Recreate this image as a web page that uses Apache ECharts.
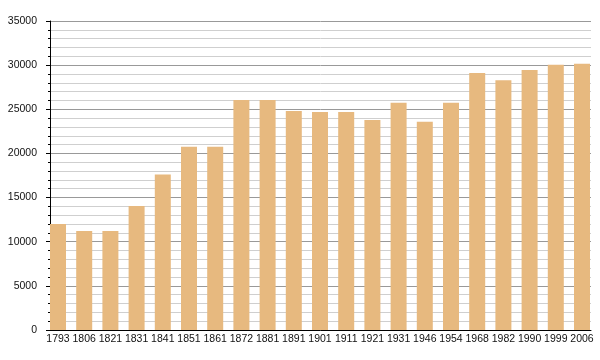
<!DOCTYPE html>
<html><head><meta charset="utf-8">
<script src="https://cdn.jsdelivr.net/npm/echarts@6/dist/echarts.min.js"></script>
<style>html,body{margin:0;padding:0;background:#fff}#c{width:600px;height:360px}</style>
</head><body><div id="c"></div>
<script>
const years = ['1793','1806','1821','1831','1841','1851','1861','1872','1881','1891','1901','1911','1921','1931','1946','1954','1968','1982','1990','1999','2006'];
const population = [12000,11200,11200,14050,17600,20750,20750,26050,26050,24800,24700,24700,23800,25750,23600,25750,29100,28300,29450,30050,30150];
const yTicks = {min:0, max:35000, interval:5000};

const font = 'Liberation Sans, Arial, sans-serif';
const chart = echarts.init(document.getElementById('c'), null, {renderer:'canvas'});
chart.setOption({
  animation:false,
  grid:[
    {left:44.9, top:21, width:550.2, bottom:30},
    {left:50, top:21, width:541, bottom:30}
  ],
  xAxis:[
    {type:'category', data:years, gridIndex:0,
     axisLine:{show:false}, axisTick:{show:false},
     axisLabel:{interval:0, margin:4, color:'#111', fontSize:10.5, fontFamily:font}},
    {type:'category', data:years, gridIndex:1,
     axisLine:{show:true, lineStyle:{color:'#000', width:1}}, axisTick:{show:false},
     axisLabel:{show:false}, splitLine:{show:false}}
  ],
  yAxis:[
    {type:'value', gridIndex:0, min:yTicks.min, max:yTicks.max, interval:yTicks.interval,
     show:false, splitLine:{show:false}},
    {type:'value', gridIndex:1, min:yTicks.min, max:yTicks.max, interval:yTicks.interval,
     axisLine:{show:true, lineStyle:{color:'#000', width:1}},
     axisTick:{show:true, length:4, lineStyle:{color:'#000'}},
     minorTick:{show:true, splitNumber:5, length:2, lineStyle:{color:'#000'}},
     axisLabel:{margin:13, color:'#111', fontSize:10.5, fontFamily:font, formatter:v=>String(v)},
     splitLine:{show:true, lineStyle:{color:'#999', width:1}},
     minorSplitLine:{show:true, lineStyle:{color:'#cfcfcf', width:1}}}
  ],
  series:[{
    type:'bar', xAxisIndex:0, yAxisIndex:0, data:population,
    barWidth:16, itemStyle:{color:'#E7B97F'}
  }]
});
</script></body></html>
